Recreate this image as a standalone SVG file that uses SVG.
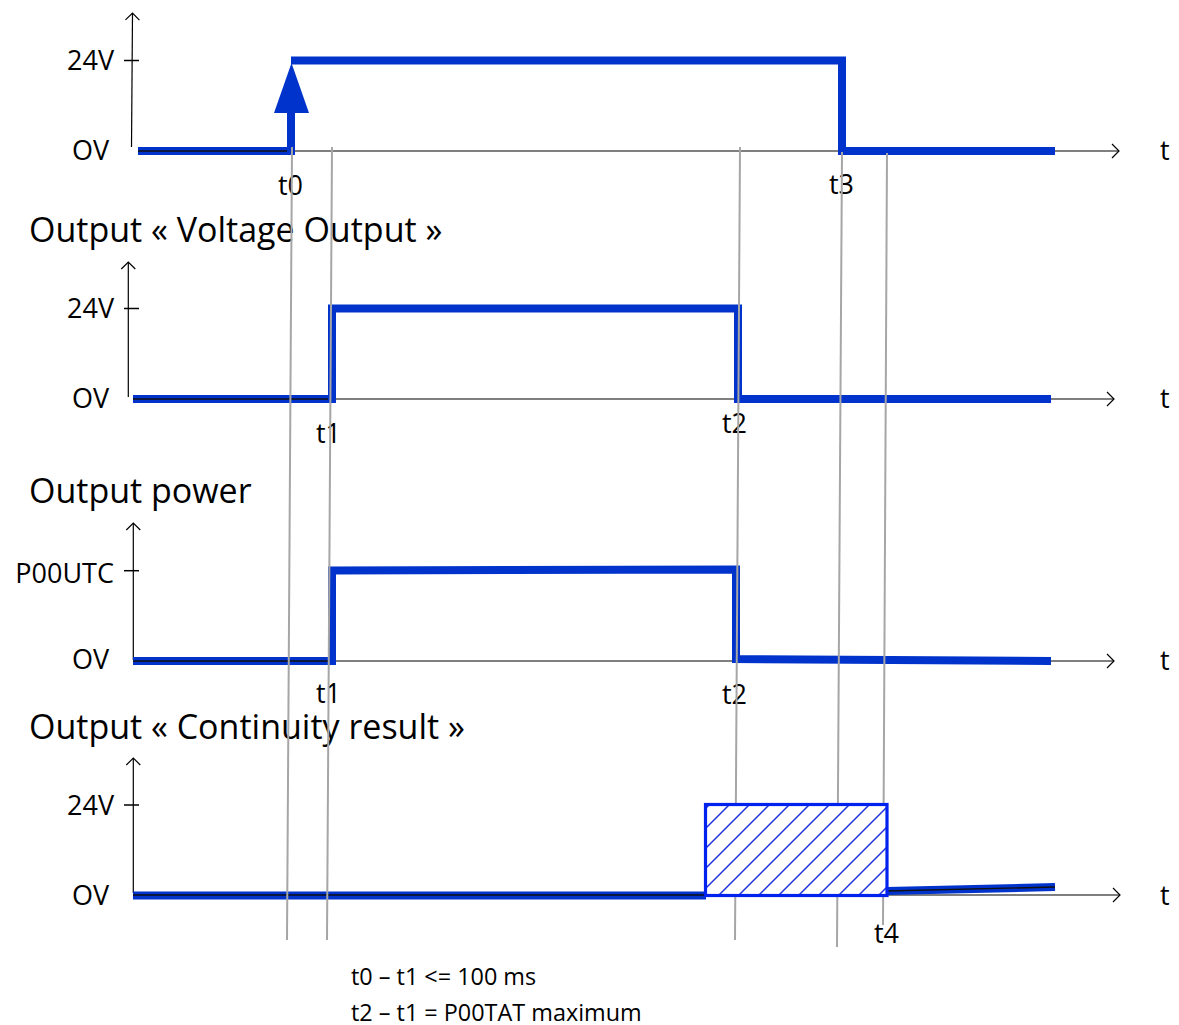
<svg xmlns="http://www.w3.org/2000/svg" width="1179" height="1025" viewBox="0 0 1179 1025">
<style>
  text { font-family: "Open Sans", "Noto Sans", "DejaVu Sans", sans-serif; fill: #000; }
  .lbl { font-size: 27px; }
  .title { font-size: 34px; }
  .note { font-size: 23.4px; }
  .yaxis { stroke: #000; stroke-width: 1.2; fill: none; marker-end: url(#open); }
  .xaxis { stroke: #555; stroke-width: 1.3; fill: none; marker-end: url(#open); }
  .tick { stroke: #000; stroke-width: 1.5; }
  .sig { stroke: #0033cc; stroke-width: 8; fill: none; stroke-linejoin: miter; stroke-linecap: butt; }
  .dark { stroke: #111; stroke-width: 1.4; }
  .guide { stroke: #a6a6a6; stroke-width: 2; fill: none; }
</style>
<defs>
  <marker id="open" markerUnits="userSpaceOnUse" markerWidth="12" markerHeight="18" refX="8" refY="8" orient="auto" viewBox="0 0 12 18">
    <path d="M1,1 L8,8 L1,15" fill="none" stroke="#000" stroke-width="1.2"/>
  </marker>
  <pattern id="hatch" patternUnits="userSpaceOnUse" x="14" y="0" width="20" height="20">
    <path d="M-5,5 L5,-5 M0,20 L20,0 M15,25 L25,15" stroke="#2233dd" stroke-width="1.5"/>
  </pattern>
</defs>

<g id="panel-voltage-input">
  <line class="yaxis" x1="131.5" y1="147" x2="132.5" y2="13"/>
  <line class="tick" x1="124" y1="60.5" x2="139" y2="60.5"/>
  <line class="xaxis" x1="138" y1="151" x2="1119" y2="151"/>
  <text class="lbl" x="114" y="70" text-anchor="end">24V</text>
  <text class="lbl" x="109" y="159.5" text-anchor="end">OV</text>
  <text class="lbl" x="1160" y="160">t</text>
  <path class="sig" d="M138,151 H291"/>
  <line class="dark" x1="138" y1="151" x2="290" y2="151"/>
  <path class="sig" d="M291,155 V112" stroke-width="9"/>
  <polygon points="274,113 291.5,63 309,113" fill="#0033cc"/>
  <path class="sig" d="M291,60.5 H846"/>
  <path class="sig" d="M842,64 V155"/>
  <path class="sig" d="M838,151 H1055"/>
  <text class="lbl" x="278" y="195">t0</text>
  <text class="lbl" x="829" y="194">t3</text>
</g>

<g id="panel-voltage-output">
  <text class="title" x="29" y="242">Output « Voltage Output »</text>
  <line class="yaxis" x1="128.3" y1="397" x2="128.3" y2="262"/>
  <line class="tick" x1="124" y1="308.5" x2="139" y2="308.5"/>
  <line class="xaxis" x1="133" y1="399" x2="1114" y2="399"/>
  <text class="lbl" x="114" y="318" text-anchor="end">24V</text>
  <text class="lbl" x="109" y="408" text-anchor="end">OV</text>
  <text class="lbl" x="1160" y="408">t</text>
  <polyline class="sig" points="133,399 332,399 332,308.5 738,308.5 738,399 1051,399"/>
  <line class="dark" x1="133" y1="399" x2="328" y2="399"/>
  <text class="lbl" x="316" y="443">t1</text>
  <text class="lbl" x="722" y="432.5">t2</text>
</g>

<g id="panel-output-power">
  <text class="title" x="29" y="503">Output power</text>
  <line class="yaxis" x1="133.3" y1="660" x2="133.3" y2="523"/>
  <line class="tick" x1="124" y1="570.7" x2="139" y2="570.7"/>
  <line class="xaxis" x1="133" y1="661" x2="1114" y2="661"/>
  <text class="lbl" x="114" y="583" text-anchor="end">P00UTC</text>
  <text class="lbl" x="109" y="669" text-anchor="end">OV</text>
  <text class="lbl" x="1160" y="670">t</text>
  <polyline class="sig" points="133,661 332,661 332,570.5 736,569.5 736,659 1051,661"/>
  <line class="dark" x1="133" y1="661" x2="328" y2="661"/>
  <text class="lbl" x="316" y="703">t1</text>
  <text class="lbl" x="722" y="704">t2</text>
</g>

<g id="panel-continuity">
  <text class="title" x="29" y="739">Output « Continuity result »</text>
  <line class="yaxis" x1="133.3" y1="893" x2="133.3" y2="758"/>
  <line class="tick" x1="124" y1="805" x2="139" y2="805"/>
  <line class="xaxis" x1="133" y1="895" x2="1120" y2="895"/>
  <text class="lbl" x="114" y="815" text-anchor="end">24V</text>
  <text class="lbl" x="109" y="905" text-anchor="end">OV</text>
  <text class="lbl" x="1160" y="905">t</text>
  <path class="sig" d="M133,895.5 H706"/>
  <line class="dark" x1="133" y1="895" x2="706" y2="895"/>
  <path class="sig" d="M887,891 L1055,887" stroke-width="7"/>
  <line class="dark" x1="887" y1="891" x2="1055" y2="887"/>
  <text class="lbl" x="874" y="943">t4</text>
</g>

<g id="guides">
  <line class="guide" x1="292" y1="147" x2="287" y2="940"/>
  <line class="guide" x1="332" y1="147" x2="327" y2="940"/>
  <line class="guide" x1="740" y1="147" x2="735" y2="940"/>
  <line class="guide" x1="842" y1="152" x2="837" y2="947"/>
  <line class="guide" x1="887" y1="153" x2="883" y2="925"/>
</g>

<g id="hatched-box">
  <rect x="705.5" y="804.5" width="181.5" height="91" fill="#fff"/>
  <rect x="705.5" y="804.5" width="181.5" height="91" fill="url(#hatch)" stroke="#0022ee" stroke-width="3.2"/>
</g>

<g id="notes">
  <text class="note" x="351" y="985">t0 – t1 &lt;= 100 ms</text>
  <text class="note" x="351" y="1021">t2 – t1 = P00TAT maximum</text>
</g>
</svg>
